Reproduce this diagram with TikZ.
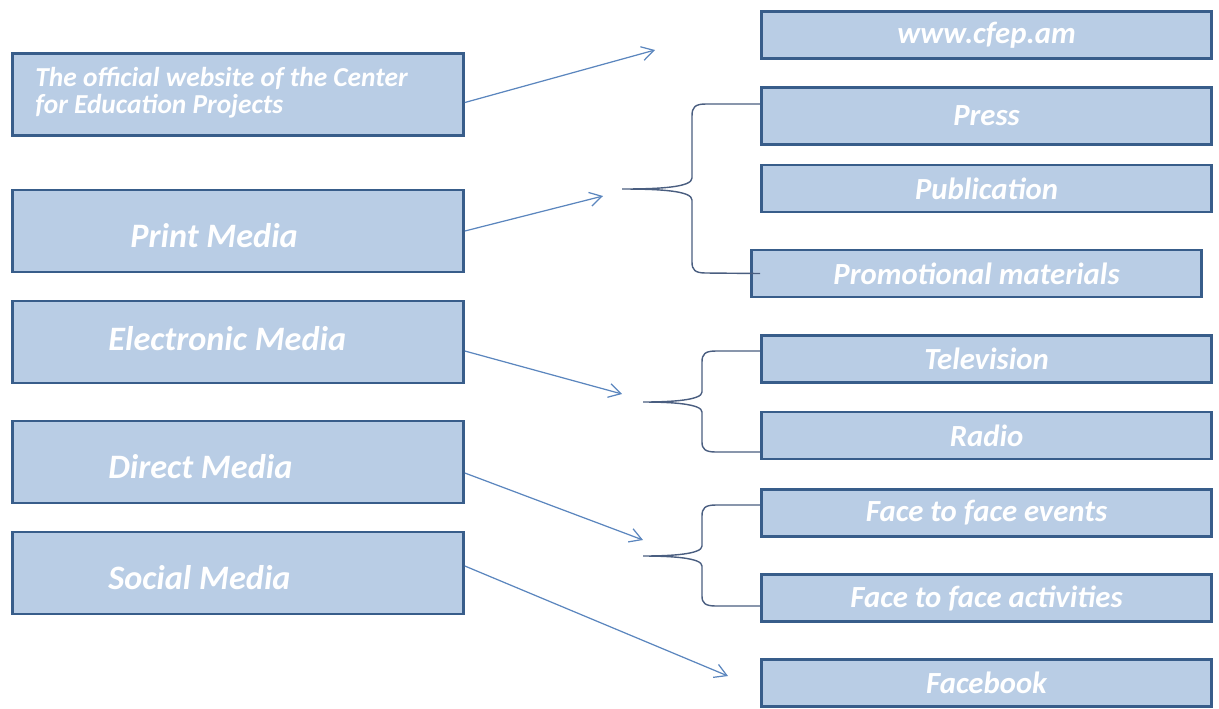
\documentclass[tikz,border=0pt]{standalone}
\usepackage{fontspec}
\setmainfont{Carlito}
\usetikzlibrary{arrows.meta,calc}
\definecolor{boxfill}{HTML}{B9CDE5}
\definecolor{boxline}{HTML}{385D8A}
\definecolor{arrowcol}{HTML}{5B86BE}
\definecolor{bracecol}{HTML}{4A5E80}
\begin{document}
\begin{tikzpicture}[x=0.02cm,y=-0.02cm,
	lbox/.style={draw=boxline,fill=boxfill,line width=1.6pt,minimum width=9.02cm,minimum height=1.64cm,inner sep=0pt},
	rbox/.style={draw=boxline,fill=boxfill,line width=1.6pt,minimum width=9cm,minimum height=0.94cm,inner sep=0pt,text=white,font=\fontsize{17.5}{20}\selectfont\bfseries\itshape},
	ltext/.style={text=white,font=\fontsize{19.5}{22}\selectfont\bfseries\itshape,inner sep=0pt,anchor=west},
	arr/.style={draw=arrowcol,line width=0.7pt,-{Straight Barb[length=2.4mm,width=2.8mm]}},
	brace/.style={draw=bracecol,line width=0.8pt}]
	
	\useasboundingbox (0,0) rectangle (1219,708);
	
	% left column
	\node[lbox] (web) at (238,94.5) {};
	\node[lbox] (print) at (238,231) {};
	\node[lbox] (elec) at (238,342) {};
	\node[lbox] (direct) at (238,462) {};
	\node[lbox] (social) at (238,573) {};
	
	\node[ltext,align=left,font=\fontsize{15.6}{15.3}\selectfont\bfseries\itshape] (web-t) at (35,93) {The official website of the Center\\for Education Projects};
	\node[ltext] (print-t) at (130,236) {Print Media};
	\node[ltext] (elec-t) at (108,339) {Electronic Media};
	\node[ltext] (direct-t) at (108,467) {Direct Media};
	\node[ltext] (social-t) at (108,578) {Social Media};
	
	% right column
	\node[rbox] (www) at (986.5,35) {www.cfep.am};
	\node[rbox,minimum height=1.14cm] (press) at (986.5,116) {Press};
	\node[rbox] (publ) at (986.5,188.5) {Publication};
	\node[rbox] (promo) at (976.5,273.5) {Promotional materials};
	\node[rbox] (tv) at (986.5,359) {Television};
	\node[rbox] (radio) at (986.5,435.5) {Radio};
	\node[rbox] (events) at (986.5,513) {Face to face events};
	\node[rbox] (activ) at (986.5,598) {Face to face activities};
	\node[rbox] (fb) at (986.5,683) {Facebook};
	
	% arrows
	\coordinate (a1) at (655,50);
	\coordinate (a2) at (603,196);
	\coordinate (a3) at (622,394);
	\coordinate (a4) at (643,540);
	\coordinate (a5) at (728,676);
	\draw[arr] ($(web.east)+(0,8)$) -- (a1);
	\draw[arr] (print.east) -- (a2);
	\draw[arr] ($(elec.east)+(0,9)$) -- (a3);
	\draw[arr] ($(direct.east)+(0,11)$) -- (a4);
	\draw[arr] ($(social.east)+(0,-7)$) -- (a5);
	
	% braces
	\coordinate (b1) at (622,189);
	\coordinate (b2) at (643,402);
	\coordinate (b3) at (643,556);
	\draw[brace] (press.west |- 0,104) -- (706,104) .. controls (695,104) and (692,107) .. (692,116) -- (692,178) .. controls (692,187) and (662,189) .. (b1) .. controls (662,189) and (692,191) .. (692,200) -- (692,262) .. controls (692,270) and (695,273) .. (706,273) -- ($(promo.west)+(10,0)$);
	\draw[brace] (tv.west |- 0,351) -- (716,351) .. controls (705,351) and (702,354) .. (702,362) -- (702,392) .. controls (702,400) and (673,402) .. (b2) .. controls (673,402) and (702,404) .. (702,412) -- (702,442) .. controls (702,449) and (705,452) .. (716,452) -- (radio.west |- 0,452);
	\draw[brace] (events.west |- 0,505) -- (716,505) .. controls (705,505) and (702,508) .. (702,516) -- (702,546) .. controls (702,554) and (673,556) .. (b3) .. controls (673,556) and (702,558) .. (702,566) -- (702,596) .. controls (702,603) and (705,606) .. (716,606) -- (activ.west |- 0,606);
	
\end{tikzpicture}
\end{document}
